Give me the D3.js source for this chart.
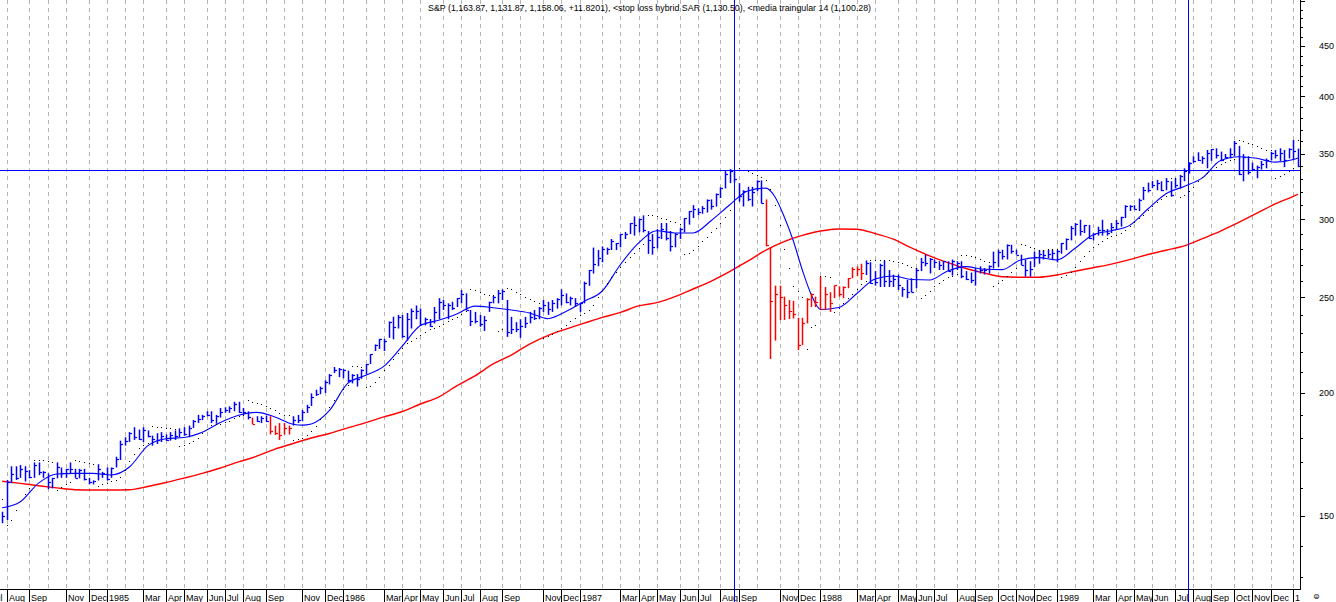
<!DOCTYPE html>
<html><head><meta charset="utf-8">
<script src="https://cdn.jsdelivr.net/npm/d3@7"></script>
<style>html,body{margin:0;padding:0;background:#fff;}svg{display:block;}</style>
</head><body>
<svg id="chart" width="1336" height="602"></svg>
<script>
// ---------- DATA (weekly S&P 500 bars) ----------
const firstWeek = "1984-07-27";
const lastWeek = "1990-01-12";
const titleText = "S&P (1,163.87, 1,131.87, 1,158.06, +11.8201), <stop loss hybrid SAR (1,130.50), <media traingular 14 (1,100.28)";

const highs = [
151.5,163.2,168.5,168.5,169.0,168.5,167.0,170.0,170.0,166.6,
165.7,164.0,170.0,168.0,167.5,170.0,167.5,167.5,167.5,164.0,
163.0,169.3,166.3,168.0,168.0,172.3,178.9,180.3,182.5,184.6,
183.6,184.6,183.2,181.0,182.0,182.5,181.5,182.5,183.2,184.1,
184.6,185.3,187.7,190.0,190.0,191.6,191.6,190.0,193.1,193.4,
193.8,195.9,195.9,193.1,191.6,188.8,189.4,189.4,189.7,189.4,
185.3,186.4,186.4,185.3,189.4,190.0,192.2,194.5,199.8,201.5,
203.0,206.0,209.0,212.5,212.0,211.5,210.7,209.0,209.0,211.4,
214.0,219.0,224.0,227.0,227.0,236.4,239.0,240.0,240.0,241.1,
243.6,245.4,243.6,238.5,237.7,244.5,249.6,248.5,246.6,247.5,
249.6,254.4,252.4,242.8,241.7,240.0,239.4,247.5,251.0,254.4,
254.8,248.5,238.9,236.0,237.6,238.9,241.7,242.8,244.5,248.5,
247.5,248.5,249.6,254.8,252.4,250.5,249.6,247.0,259.4,266.6,
280.9,279.3,281.7,280.9,286.6,284.0,289.9,291.4,297.5,302.2,
300.6,302.9,292.0,289.9,293.3,297.5,297.5,292.0,290.6,294.2,
300.9,305.9,310.2,307.9,309.5,314.4,314.4,318.8,323.4,335.9,
337.5,336.8,326.6,321.2,323.8,323.8,328.7,328.7,314.4,281.0,
257.0,257.0,250.5,248.5,248.0,238.4,238.4,249.6,252.4,250.5,
262.5,256.2,253.1,257.1,256.6,256.6,261.6,268.3,268.8,270.5,
272.6,271.5,265.9,270.5,272.6,266.6,263.7,263.7,256.2,260.4,
261.5,267.8,274.2,276.3,274.2,273.2,272.1,272.1,272.1,273.2,
272.1,272.1,265.9,265.0,267.8,268.9,267.8,269.5,278.3,279.5,
279.5,283.0,282.8,279.5,276.3,273.2,272.1,278.3,279.3,279.3,
279.5,279.5,279.5,284.0,287.0,295.5,297.5,299.8,296.2,296.2,
290.6,295.0,299.8,293.3,297.5,299.6,301.9,310.2,310.2,310.2,
315.0,323.7,327.0,328.3,329.1,328.0,330.5,328.0,330.5,333.0,
338.1,343.0,347.8,351.0,347.8,352.9,353.7,354.3,351.6,349.6,
354.3,360.5,356.3,349.5,347.8,342.6,340.3,344.0,346.0,351.4,
352.9,354.3,352.9,354.3,361.2,354.0];

const lows = [
147.5,148.6,161.9,163.2,164.0,162.6,163.8,164.0,165.0,164.0,
159.7,160.0,163.8,164.0,164.0,165.5,164.0,163.8,163.0,161.5,
161.5,163.0,164.0,163.0,164.0,168.0,171.0,176.8,178.3,179.2,
179.2,178.3,180.3,176.8,177.5,178.3,178.9,178.9,179.2,180.3,
181.0,180.3,184.3,186.4,187.7,189.4,186.4,186.1,188.8,190.9,
190.9,191.6,190.9,190.2,188.0,186.0,186.9,186.4,186.9,181.5,
181.3,179.2,181.5,181.5,185.3,186.4,187.2,190.9,194.0,198.6,
199.4,200.0,204.0,209.5,207.5,207.0,205.0,204.5,203.0,206.7,
208.7,214.0,220.6,221.7,220.6,227.5,226.7,232.5,227.5,226.0,
232.5,237.6,234.2,234.2,233.4,235.3,237.6,242.8,237.6,242.8,
244.5,246.6,242.8,233.8,235.3,233.4,231.2,241.7,246.6,246.6,
248.5,228.0,229.5,230.5,227.5,232.8,235.3,237.2,237.6,241.7,
240.0,241.7,243.6,245.4,246.6,245.4,244.5,241.7,246.6,256.9,
264.4,268.9,271.4,276.3,279.3,279.3,281.1,286.6,289.9,288.9,
291.1,291.1,276.8,276.3,280.4,286.6,285.7,278.4,281.1,286.6,
291.1,296.4,301.0,302.9,304.0,304.9,307.0,309.2,315.4,322.6,
326.6,327.0,312.7,309.2,313.2,309.2,320.4,311.5,281.7,216.5,
226.0,237.2,237.2,237.7,238.0,221.1,223.6,235.3,244.5,244.5,
243.4,242.8,241.7,249.6,250.5,249.6,255.5,261.5,262.7,260.4,
263.4,258.2,257.0,256.2,256.2,256.2,256.2,254.4,250.4,249.6,
253.1,255.5,265.9,268.9,264.4,267.8,266.6,266.6,265.9,263.1,
266.6,261.5,260.4,258.5,257.0,264.4,263.7,264.4,267.5,268.5,
273.2,273.2,276.9,276.3,269.7,262.5,262.5,268.5,270.5,273.2,
274.2,273.2,271.4,276.9,279.3,285.7,288.9,288.9,290.6,286.6,
285.7,288.9,288.9,288.9,290.6,293.3,295.0,301.0,306.0,307.0,
306.0,314.0,319.6,322.7,321.2,320.5,321.2,316.4,322.7,322.6,
328.0,334.0,342.5,344.0,341.6,338.1,344.0,346.0,343.8,345.9,
346.0,347.8,332.8,328.0,333.2,336.0,330.3,337.1,338.1,344.6,
346.0,344.0,339.0,346.0,344.6,339.0];

const closes = [
150.1,162.4,165.5,164.1,167.6,166.7,164.3,168.8,166.3,166.1,
162.4,163.9,168.1,166.0,167.4,167.6,164.1,166.9,163.6,162.3,
162.7,167.4,166.0,163.7,167.9,171.3,177.4,178.6,182.2,180.5,
179.4,183.2,180.7,179.5,179.0,180.7,179.0,181.2,180.8,182.4,
181.6,184.3,187.4,188.3,189.6,189.8,187.6,189.6,191.2,192.0,
193.3,194.7,191.5,191.2,188.9,186.1,187.5,188.6,187.4,182.9,
182.0,181.3,184.1,184.3,187.7,187.8,191.5,193.7,198.1,199.7,
202.2,205.0,208.5,210.9,211.3,210.9,205.9,208.4,206.4,211.0,
213.9,218.9,223.8,226.9,225.6,236.0,233.3,238.9,228.7,237.6,
242.4,242.3,235.2,237.9,234.0,241.4,247.4,245.7,245.7,244.0,
249.6,251.8,243.0,236.4,236.8,234.9,236.9,247.1,250.1,252.9,
253.8,230.7,232.2,232.2,233.7,235.5,238.8,238.3,243.9,245.8,
243.2,246.5,249.2,251.2,247.4,249.7,246.8,246.5,258.7,266.3,
270.1,274.1,280.0,279.7,285.5,284.2,289.9,289.9,297.5,296.1,
300.5,292.5,285.9,281.5,288.0,293.4,287.4,282.2,290.1,293.5,
300.9,305.7,307.2,305.6,308.4,314.0,309.3,318.7,323.0,334.0,
335.9,329.8,316.7,321.0,314.9,320.2,328.1,311.5,282.7,248.2,
251.8,250.4,245.6,242.0,240.3,223.9,235.3,249.2,252.0,247.1,
243.4,252.0,246.5,257.1,252.2,255.9,261.6,267.3,267.3,264.9,
271.1,258.5,258.9,269.4,259.8,260.1,261.3,257.5,255.0,253.0,
253.4,266.5,271.3,270.7,273.8,271.8,270.0,272.0,266.0,272.0,
271.0,262.6,261.0,260.2,265.9,266.5,266.8,268.9,271.9,278.1,
275.5,282.9,278.5,276.3,270.0,266.5,267.2,274.9,277.0,276.3,
276.9,277.7,279.0,283.9,286.6,293.8,297.0,292.0,296.0,287.1,
290.0,292.9,292.7,290.9,294.9,297.2,301.4,309.6,309.6,307.6,
313.8,321.2,321.6,325.5,326.7,321.4,328.0,318.0,324.9,331.8,
335.9,342.2,343.9,344.7,346.0,350.5,353.7,348.8,345.0,347.0,
349.2,358.8,333.7,347.2,335.1,337.6,339.0,341.6,345.0,350.6,
348.7,350.1,344.8,353.4,352.2,339.9];

// stop loss hybrid SAR dots
const sar = [
156.0,147.0,148.5,152.0,155.5,158.0,160.0,171.0,171.0,170.8,
170.5,170.3,159.5,160.5,161.5,162.5,170.8,170.5,170.2,169.8,
169.3,161.0,161.6,162.2,162.6,163.3,164.5,167.0,170.5,173.5,
175.8,177.2,178.0,185.0,184.8,184.6,184.4,184.2,184.0,176.5,
177.0,177.8,178.8,180.2,182.0,184.0,185.5,185.8,186.0,186.7,
187.5,188.5,189.5,189.9,196.5,196.0,195.5,194.8,194.0,193.2,
192.0,190.8,190.0,189.8,179.0,179.4,180.0,181.2,182.8,185.3,
188.0,190.6,193.5,196.5,199.5,202.0,203.8,213.0,212.8,212.5,
203.0,203.4,205.0,207.8,210.8,213.5,216.5,219.5,222.0,224.5,
226.0,227.5,229.0,230.5,232.0,233.0,234.0,235.2,236.5,237.5,
238.8,240.5,242.0,254.8,254.4,253.5,252.3,251.5,251.3,231.0,
232.0,255.5,255.0,253.5,252.0,250.5,249.0,247.8,246.7,227.5,
228.3,229.5,231.0,232.6,234.5,236.5,238.3,240.0,241.0,242.5,
245.5,250.0,254.5,258.5,262.0,265.5,268.5,271.5,274.5,277.5,
280.5,283.0,303.5,303.0,302.2,301.0,300.0,299.0,298.0,297.0,
276.5,277.5,279.3,282.0,285.0,288.0,291.0,294.0,297.5,301.5,
306.5,311.0,338.0,337.0,336.0,334.5,333.0,331.5,329.0,322.0,
310.0,296.0,280.0,268.0,257.0,254.0,250.0,221.5,233.5,234.5,
262.8,262.8,262.5,241.7,244.0,247.0,249.5,252.0,255.0,258.0,
260.0,273.0,272.9,272.8,272.8,272.6,272.3,271.8,271.0,270.0,
268.5,267.9,249.6,251.5,254.0,256.5,258.5,260.5,262.0,263.0,
264.0,276.3,276.0,275.3,274.5,273.5,272.5,271.5,257.0,258.5,
260.5,262.8,265.5,268.0,283.0,282.5,281.5,280.5,279.6,279.6,
279.8,279.8,279.8,262.5,263.5,265.5,268.5,272.0,275.5,278.5,
281.0,283.5,285.5,287.2,288.3,289.0,290.5,292.5,295.5,298.5,
301.0,303.5,306.5,309.5,312.5,315.0,317.0,330.6,330.6,316.4,
318.0,320.5,324.0,328.0,331.5,334.5,337.0,339.5,341.5,343.0,
344.5,345.8,361.0,360.5,359.0,357.5,356.0,354.5,353.0,352.5,
330.5,332.0,334.0,336.0,338.0,361.5];

// weeks where the system is on a sell signal (bars drawn red)
const sellPeriods = [["1985-08-16","1985-08-16"],["1985-09-13","1985-10-11"],["1987-10-16","1988-03-11"]];

// media triangular 14 (blue) and long average (red): [week number, value]
const triangular14 = [[0,152.9],[4,155.1],[8,162.0],[12,165.5],[16,165.7],[20,165.7],[24,165.1],[28,168.2],[32,176.7],[36,179.7],[40,180.2],[44,182.4],[48,186.6],[52,189.8],[56,191.1],[60,189.1],[64,185.9],[66,185.5],[68,186.0],[72,192.0],[76,204.5],[80,208.4],[84,212.9],[88,223.1],[92,234.1],[96,237.0],[100,240.5],[104,245.0],[108,244.1],[112,242.8],[116,241.1],[120,237.9],[124,241.9],[128,247.7],[132,253.8],[136,270.0],[140,284.0],[144,292.2],[148,290.7],[152,290.7],[156,299.3],[160,310.3],[164,320.6],[168,322.8],[170,316.2],[172,302.1],[174,285.6],[176,266.6],[178,251.4],[180,243.1],[184,244.2],[188,252.3],[192,261.0],[196,262.9],[200,260.7],[204,260.4],[208,266.0],[212,268.7],[216,267.0],[220,266.8],[224,272.9],[228,274.4],[232,272.9],[236,280.5],[240,289.5],[244,292.2],[248,295.9],[252,307.4],[256,318.6],[260,324.1],[264,330.6],[268,344.3],[272,347.4],[276,346.1],[280,343.0],[284,345.2],[285,346.4]];
const longAverage = [[0,162.7],[4,161.9],[8,161.0],[12,160.2],[16,159.5],[20,159.4],[24,159.4],[28,159.5],[32,160.7],[36,162.2],[40,163.9],[44,165.7],[48,167.8],[52,170.2],[56,172.5],[60,175.4],[64,177.7],[68,180.0],[72,181.9],[76,184.3],[80,186.6],[84,189.1],[88,191.5],[92,194.9],[96,198.1],[100,203.3],[104,208.1],[108,214.0],[112,218.5],[116,224.2],[120,228.7],[124,232.2],[128,235.4],[132,238.6],[136,241.4],[140,245.1],[144,247.0],[148,250.5],[152,255.0],[156,259.8],[160,265.6],[164,272.1],[168,279.3],[172,284.9],[176,289.0],[180,292.0],[184,293.4],[188,293.2],[192,290.3],[196,286.5],[200,280.7],[204,275.5],[208,271.2],[212,267.5],[216,264.7],[220,262.4],[224,262.1],[228,262.1],[232,263.5],[236,265.8],[240,268.0],[244,270.3],[248,273.1],[252,276.4],[256,279.2],[260,282.0],[264,286.8],[268,291.9],[272,298.0],[276,304.4],[280,311.1],[284,316.7],[285,318.2]];

// reference markers: Aug-1987 top level and the two marker weeks
const peakLevel = 336.77;
const markerWeeks = ["1987-08-28","1989-07-28"];

// axis labels
const priceLabels = [150,200,250,300,350,400,450];
const monthLabels = [
["1984-07","Jul"],["1984-08","Aug"],["1984-09","Sep"],["1984-11","Nov"],["1984-12","Dec"],
["1985-01","1985"],["1985-03","Mar"],["1985-04","Apr"],["1985-05","May"],["1985-06","Jun"],["1985-07","Jul"],["1985-08","Aug"],["1985-09","Sep"],["1985-11","Nov"],["1985-12","Dec"],
["1986-01","1986"],["1986-03","Mar"],["1986-04","Apr"],["1986-05","May"],["1986-06","Jun"],["1986-07","Jul"],["1986-08","Aug"],["1986-09","Sep"],["1986-11","Nov"],["1986-12","Dec"],
["1987-01","1987"],["1987-03","Mar"],["1987-04","Apr"],["1987-05","May"],["1987-06","Jun"],["1987-07","Jul"],["1987-08","Aug"],["1987-09","Sep"],["1987-11","Nov"],["1987-12","Dec"],
["1988-01","1988"],["1988-03","Mar"],["1988-04","Apr"],["1988-05","May"],["1988-06","Jun"],["1988-07","Jul"],["1988-08","Aug"],["1988-09","Sep"],["1988-10","Oct"],["1988-11","Nov"],["1988-12","Dec"],
["1989-01","1989"],["1989-03","Mar"],["1989-04","Apr"],["1989-05","May"],["1989-06","Jun"],["1989-07","Jul"],["1989-08","Aug"],["1989-09","Sep"],["1989-10","Oct"],["1989-11","Nov"],["1989-12","Dec"],
["1990-01","1990"]];

// ---------- DRAWING ----------
const W = 1336, H = 602, plotR = 1300, plotB = 589;
const parseDay = d3.timeParse("%Y-%m-%d"), parseMonth = d3.timeParse("%Y-%m");
const FONT = "'Liberation Sans', Arial, sans-serif";

// bar dates (weekly, Friday; the New-Year holiday week is dated Dec 31)
const weeks = d3.timeFriday.range(parseDay(firstWeek), d3.timeDay.offset(parseDay(lastWeek), 1))
  .map(d => (d.getMonth() === 0 && d.getDate() === 1) ? d3.timeDay.offset(d, -1) : d);
const n = Math.min(weeks.length, highs.length);

const x = d3.scaleTime().domain([new Date(1984,7,3), new Date(1990,0,5)]).range([6.7, 1293.3]);
const y = d3.scaleLog().domain([150, 450]).range([516, 46]);
const firstBarOfMonth = m => { let d = d3.timeFriday.ceil(m); if (d.getDate() === 1 && d.getMonth() === 0) d = d3.timeDay.offset(d, 7); return d; };

const svg = d3.select("#chart");
svg.append("rect").attr("width", W).attr("height", H).attr("fill", "#fff");
const defs = svg.append("defs");
defs.append("clipPath").attr("id", "plotClip").append("rect").attr("x", 0).attr("y", 0).attr("width", plotR).attr("height", plotB);
defs.append("clipPath").attr("id", "labClip").append("rect").attr("x", 0).attr("y", plotB).attr("width", plotR).attr("height", H - plotB);

// monthly dashed grid
const months = d3.timeMonth.range(new Date(1984,6,1), new Date(1990,1,1));
const grid = svg.append("g").attr("clip-path", "url(#plotClip)").attr("shape-rendering", "crispEdges");
months.forEach(m => {
  const gx = Math.round(x(firstBarOfMonth(m))) + 0.5;
  grid.append("line").attr("x1", gx).attr("x2", gx).attr("y1", 0).attr("y2", plotB)
    .attr("stroke", "#b4b4b4").attr("stroke-width", 1).attr("stroke-dasharray", "4,4");
});

const plot = svg.append("g").attr("clip-path", "url(#plotClip)");

// moving averages
const line = d3.line().x(d => x(weeks[d[0]])).y(d => y(d[1])).curve(d3.curveMonotoneX);
plot.append("path").datum(longAverage).attr("d", line).attr("fill", "none").attr("stroke", "#ff0000").attr("stroke-width", 1.4);
plot.append("path").datum(triangular14).attr("d", line).attr("fill", "none").attr("stroke", "#0000ff").attr("stroke-width", 1.1);

// bars
const sellRanges = sellPeriods.map(p => [parseDay(p[0]), parseDay(p[1])]);
const isSell = d => sellRanges.some(r => d >= d3.timeDay.offset(r[0], -1) && d <= d3.timeDay.offset(r[1], 1));
for (let i = 0; i < n; i++) {
  const bx = Math.round(x(weeks[i])) + 0.5;
  const col = isSell(weeks[i]) ? "#ff0000" : "#0000ff";
  plot.append("line").attr("x1", bx).attr("x2", bx).attr("y1", y(highs[i])).attr("y2", y(lows[i]))
    .attr("stroke", col).attr("stroke-width", 1.5);
  plot.append("line").attr("x1", bx).attr("x2", bx + 2.5).attr("y1", Math.round(y(closes[i])) + 0.5).attr("y2", Math.round(y(closes[i])) + 0.5)
    .attr("stroke", col).attr("stroke-width", 1.2);
}
// SAR dots (single pixels)
const dots = plot.append("g").attr("shape-rendering", "crispEdges");
for (let i = 0; i < n; i++) {
  dots.append("rect").attr("x", Math.round(x(weeks[i]))).attr("y", Math.round(y(sar[i])))
    .attr("width", 1).attr("height", 1).attr("fill", "#000");
}

// right price axis
const axisG = svg.append("g").attr("shape-rendering", "crispEdges");
axisG.append("line").attr("x1", plotR + 0.5).attr("x2", plotR + 0.5).attr("y1", 0).attr("y2", plotB + 1).attr("stroke", "#000");
d3.range(130, 510, 10).forEach(v => {
  const ty = Math.round(y(v)) + 0.5;
  if (ty < 0 || ty > plotB) return;
  const major = v % 50 === 0;
  axisG.append("line").attr("x1", plotR).attr("x2", plotR + (major ? 5 : 3)).attr("y1", ty).attr("y2", ty).attr("stroke", "#000");
});
priceLabels.forEach(v => {
  svg.append("text").attr("x", 1319).attr("y", y(v) + 3.3).text(v)
    .attr("font-family", FONT).attr("font-size", "9px").attr("fill", "#000");
});

// bottom time axis
axisG.append("line").attr("x1", 0).attr("x2", plotR + 1).attr("y1", plotB + 0.5).attr("y2", plotB + 0.5).attr("stroke", "#000");
const lab = svg.append("g").attr("clip-path", "url(#labClip)");
monthLabels.forEach(([m, t]) => {
  const lx = Math.round(x(firstBarOfMonth(parseMonth(m)))) + 0.5;
  lab.append("line").attr("x1", lx).attr("x2", lx).attr("y1", plotB).attr("y2", H).attr("stroke", "#000").attr("shape-rendering", "crispEdges");
  lab.append("text").attr("x", lx + 1.5).attr("y", 600.5).text(t)
    .attr("font-family", FONT).attr("font-size", "9px").attr("fill", "#000");
});
svg.append("text").attr("x", 1313).attr("y", 599).text("\u229C")
  .attr("font-family", "'DejaVu Sans', sans-serif").attr("font-size", "8px").attr("fill", "#000");

// reference markers (drawn on top)
const mk = svg.append("g").attr("shape-rendering", "crispEdges");
mk.append("line").attr("x1", 0).attr("x2", plotR).attr("y1", Math.round(y(peakLevel)) + 0.5).attr("y2", Math.round(y(peakLevel)) + 0.5)
  .attr("stroke", "#0000ff").attr("stroke-width", 1);
markerWeeks.forEach(w => {
  const vx = Math.floor(x(parseDay(w))) + 0.5;
  mk.append("line").attr("x1", vx).attr("x2", vx).attr("y1", 0).attr("y2", H).attr("stroke", "#0000ff").attr("stroke-width", 1);
});

// title
svg.append("text").attr("x", 428).attr("y", 10.5).text(titleText)
  .attr("font-family", FONT).attr("font-size", "9px").attr("fill", "#000")
  .attr("textLength", 443).attr("lengthAdjust", "spacingAndGlyphs");
</script>
</body></html>
